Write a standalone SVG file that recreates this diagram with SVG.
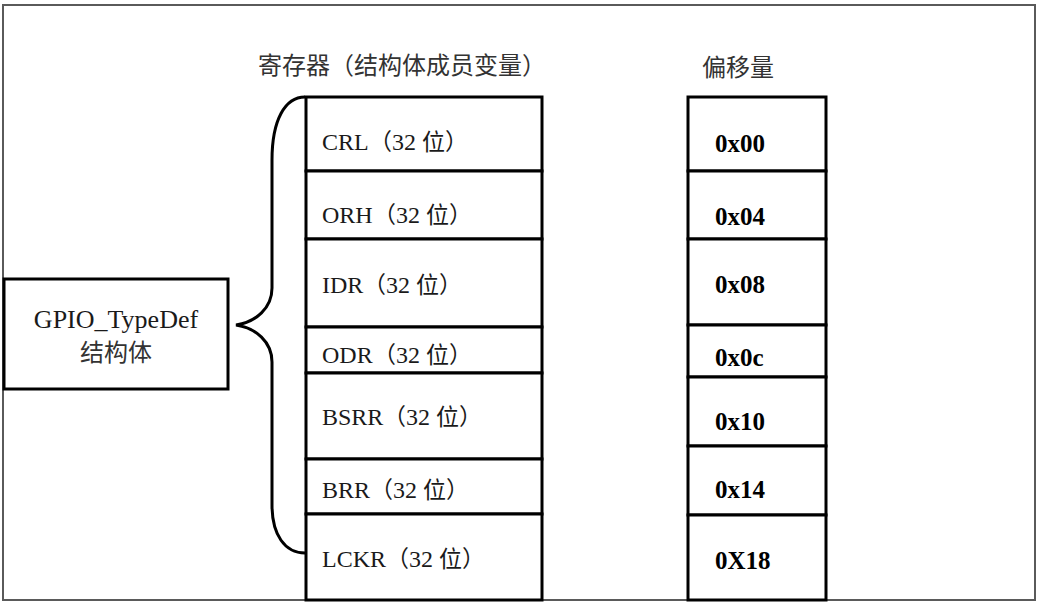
<svg xmlns="http://www.w3.org/2000/svg" width="1041" height="605" viewBox="0 0 1041 605">
<style>
.frame{fill:none;stroke:#5a5a5a;stroke-width:2}
.cell{fill:#fff;stroke:#000;stroke-width:3}
.reg{font-family:"Liberation Serif",serif;font-size:24px;fill:#1a1a1a}
.cjk{font-family:"Noto Sans CJK SC",sans-serif;font-size:23px;fill:#1a1a1a}
.off{font-family:"Liberation Serif",serif;font-size:25px;font-weight:bold;fill:#000}
.title{font-family:"Noto Sans CJK SC",sans-serif;font-size:24px;fill:#333}
.brace{fill:none;stroke:#000;stroke-width:3}
</style>
<rect class="frame" x="3" y="5" width="1032" height="595"/>
<text class="title" x="402" y="74" text-anchor="middle">寄存器（结构体成员变量）</text>
<text class="title" x="738" y="76" text-anchor="middle">偏移量</text>
<g id="gpio">
<rect class="cell" x="4" y="279" width="224" height="110"/>
<text class="reg" x="116" y="328" text-anchor="middle" style="font-size:26px">GPIO_TypeDef</text>
<text class="cjk" x="116" y="361" text-anchor="middle" style="font-size:24px;fill:#333">结构体</text>
</g>
<g id="connectors">
<path class="brace" d="M305,97 C285,97 272,120 272,160 L272,288 C272,308 256,322 236,325 C256,328 272,342 272,362 L272,505 C272,535 285,553 305,553"/>
</g>
<g id="registers">
<g id="reg-crl"><rect class="cell" x="306" y="97" width="236" height="74"/><text class="reg" x="322" y="150">CRL</text><text class="cjk" x="369" y="150">（</text><text class="reg" x="392" y="150">32</text><text class="cjk" x="422" y="150">位）</text></g>
<g id="reg-orh"><rect class="cell" x="306" y="171" width="236" height="68"/><text class="reg" x="322" y="223">ORH</text><text class="cjk" x="373" y="223">（</text><text class="reg" x="396" y="223">32</text><text class="cjk" x="426" y="223">位）</text></g>
<g id="reg-idr"><rect class="cell" x="306" y="239" width="236" height="88"/><text class="reg" x="322" y="293">IDR</text><text class="cjk" x="363" y="293">（</text><text class="reg" x="386" y="293">32</text><text class="cjk" x="416" y="293">位）</text></g>
<g id="reg-odr"><rect class="cell" x="306" y="327" width="236" height="46"/><text class="reg" x="322" y="363">ODR</text><text class="cjk" x="373" y="363">（</text><text class="reg" x="396" y="363">32</text><text class="cjk" x="426" y="363">位）</text></g>
<g id="reg-bsrr"><rect class="cell" x="306" y="373" width="236" height="86"/><text class="reg" x="322" y="425">BSRR</text><text class="cjk" x="383" y="425">（</text><text class="reg" x="406" y="425">32</text><text class="cjk" x="436" y="425">位）</text></g>
<g id="reg-brr"><rect class="cell" x="306" y="459" width="236" height="55"/><text class="reg" x="322" y="498">BRR</text><text class="cjk" x="370" y="498">（</text><text class="reg" x="393" y="498">32</text><text class="cjk" x="423" y="498">位）</text></g>
<g id="reg-lckr"><rect class="cell" x="306" y="514" width="236" height="86"/><text class="reg" x="322" y="567">LCKR</text><text class="cjk" x="386" y="567">（</text><text class="reg" x="409" y="567">32</text><text class="cjk" x="439" y="567">位）</text></g>
</g>
<g id="offsets">
<g id="off-00"><rect class="cell" x="688" y="97" width="138" height="74"/><text class="off" x="715" y="152">0x00</text></g>
<g id="off-04"><rect class="cell" x="688" y="171" width="138" height="68"/><text class="off" x="715" y="225">0x04</text></g>
<g id="off-08"><rect class="cell" x="688" y="239" width="138" height="86"/><text class="off" x="715" y="293">0x08</text></g>
<g id="off-0c"><rect class="cell" x="688" y="325" width="138" height="52"/><text class="off" x="715" y="366">0x0c</text></g>
<g id="off-10"><rect class="cell" x="688" y="377" width="138" height="69"/><text class="off" x="715" y="430">0x10</text></g>
<g id="off-14"><rect class="cell" x="688" y="446" width="138" height="69"/><text class="off" x="715" y="498">0x14</text></g>
<g id="off-18"><rect class="cell" x="688" y="515" width="138" height="85"/><text class="off" x="715" y="569">0X18</text></g>
</g>
</svg>
